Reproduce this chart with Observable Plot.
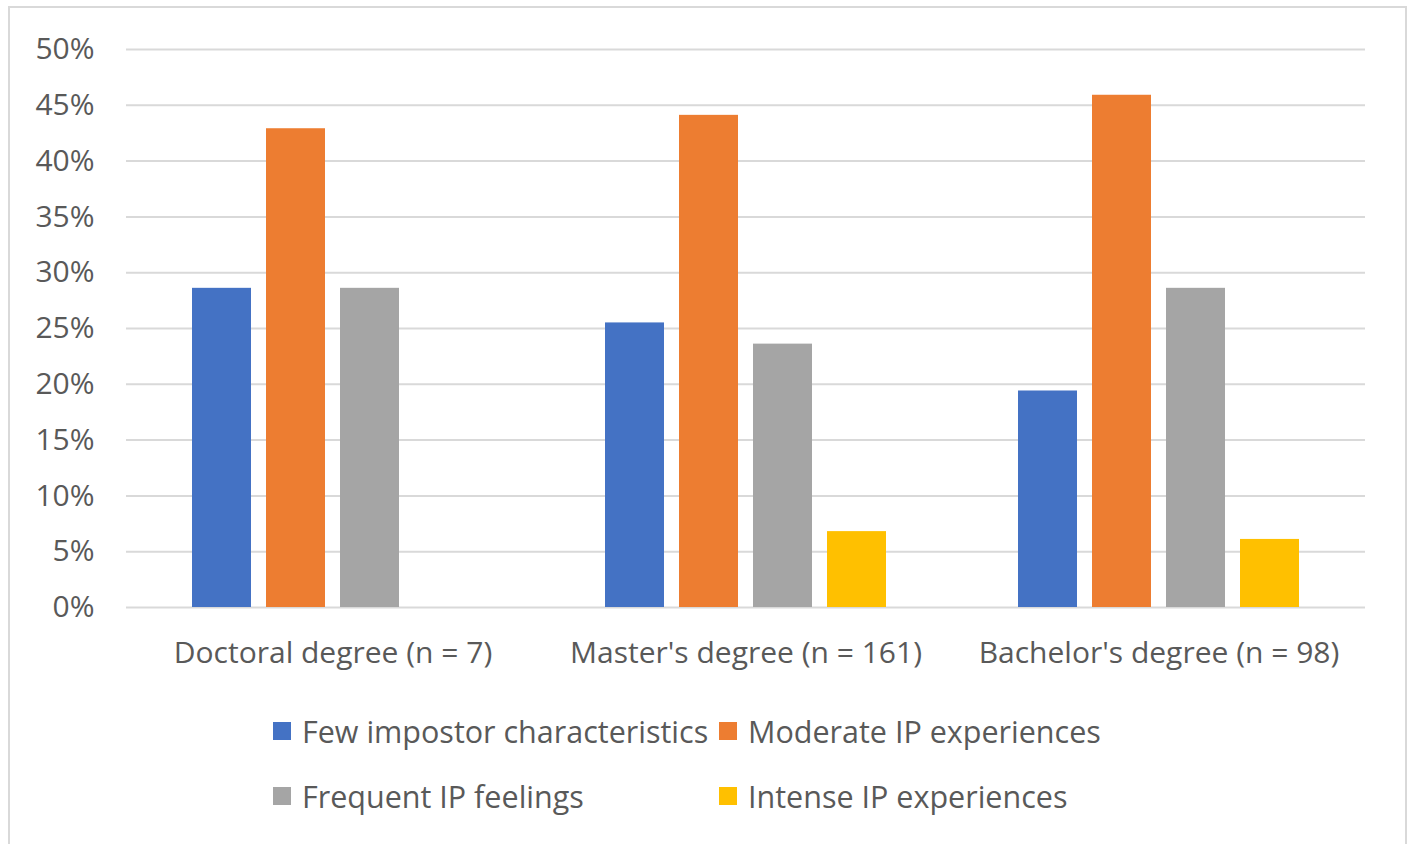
<!DOCTYPE html>
<html>
<head>
<meta charset="utf-8">
<script src="https://cdn.jsdelivr.net/npm/d3@7"></script>
<script src="https://cdn.jsdelivr.net/npm/@observablehq/plot@0.6"></script>
<style>
  html, body { margin: 0; padding: 0; background: #fff; }
  #wrap { position: relative; width: 1416px; height: 844px; overflow: hidden; font-family: "Open Sans", sans-serif; color: #595959; }
  #border { position: absolute; left: 8px; top: 6px; width: 1399px; height: 850px; border: 2px solid #d9d9d9; box-sizing: border-box; }
  #chart { position: absolute; left: 0; top: 0; }
  #legend { position: absolute; left: 273px; top: 712px; display: grid; grid-template-columns: 446px auto; row-gap: 27px; font-size: 30.5px; }
  .item { display: flex; align-items: center; height: 38px; white-space: nowrap; }
  .sw { width: 18px; height: 18px; margin-right: 11px; flex: none; }
</style>
</head>
<body>
<div id="wrap">
  <div id="border"></div>
  <div id="chart"></div>
  <div id="legend"></div>
</div>
<script>
const degrees = ["Doctoral degree (n = 7)", "Master's degree (n = 161)", "Bachelor's degree (n = 98)"];
const series = ["Few impostor characteristics", "Moderate IP experiences", "Frequent IP feelings", "Intense IP experiences"];
const colors = ["#4472C4", "#ED7D31", "#A5A5A5", "#FFC000"];
const few = [28.6, 25.5, 19.4];
const moderate = [42.9, 44.1, 45.9];
const frequent = [28.6, 23.6, 28.6];
const intense = [0, 6.8, 6.1];
const yTicks = [0, 5, 10, 15, 20, 25, 30, 35, 40, 45, 50];

const valuesBySeries = [few, moderate, frequent, intense];
const data = [];
degrees.forEach((deg, i) => {
  series.forEach((s, j) => {
    data.push({degree: deg, series: s, value: valuesBySeries[j][i]});
  });
});

const chart = Plot.plot({
  width: 1416,
  height: 690,
  marginLeft: 125,
  marginRight: 51,
  marginTop: 49,
  marginBottom: 83,
  style: {fontFamily: "'Open Sans', sans-serif", color: "#595959", fontSize: "30px", background: "transparent"},
  fx: {domain: degrees, padding: 0, label: null},
  x: {domain: series, paddingInner: 0.2, paddingOuter: 0.867, axis: null},
  y: {domain: [0, 50], label: null},
  color: {domain: series, range: colors},
  marks: [
    Plot.gridY(yTicks, {stroke: "#d9d9d9", strokeOpacity: 1, strokeWidth: 2}),
    Plot.barY(data, {fx: "degree", x: "series", y: "value", fill: "series"}),
    Plot.axisY(yTicks, {tickSize: 0, tickPadding: 32, tickFormat: d => d + "%", fontSize: 30, fill: "#595959", label: null}),
    Plot.axisFx({anchor: "bottom", tickSize: 0, tickPadding: 34, fontSize: 30, fill: "#595959", label: null})
  ]
});
document.getElementById("chart").appendChild(chart);

const legend = document.getElementById("legend");
series.forEach((s, j) => {
  const item = document.createElement("div");
  item.className = "item";
  const sw = document.createElement("span");
  sw.className = "sw";
  sw.style.background = colors[j];
  const t = document.createElement("span");
  t.textContent = s;
  item.appendChild(sw);
  item.appendChild(t);
  legend.appendChild(item);
});
</script>
</body>
</html>
